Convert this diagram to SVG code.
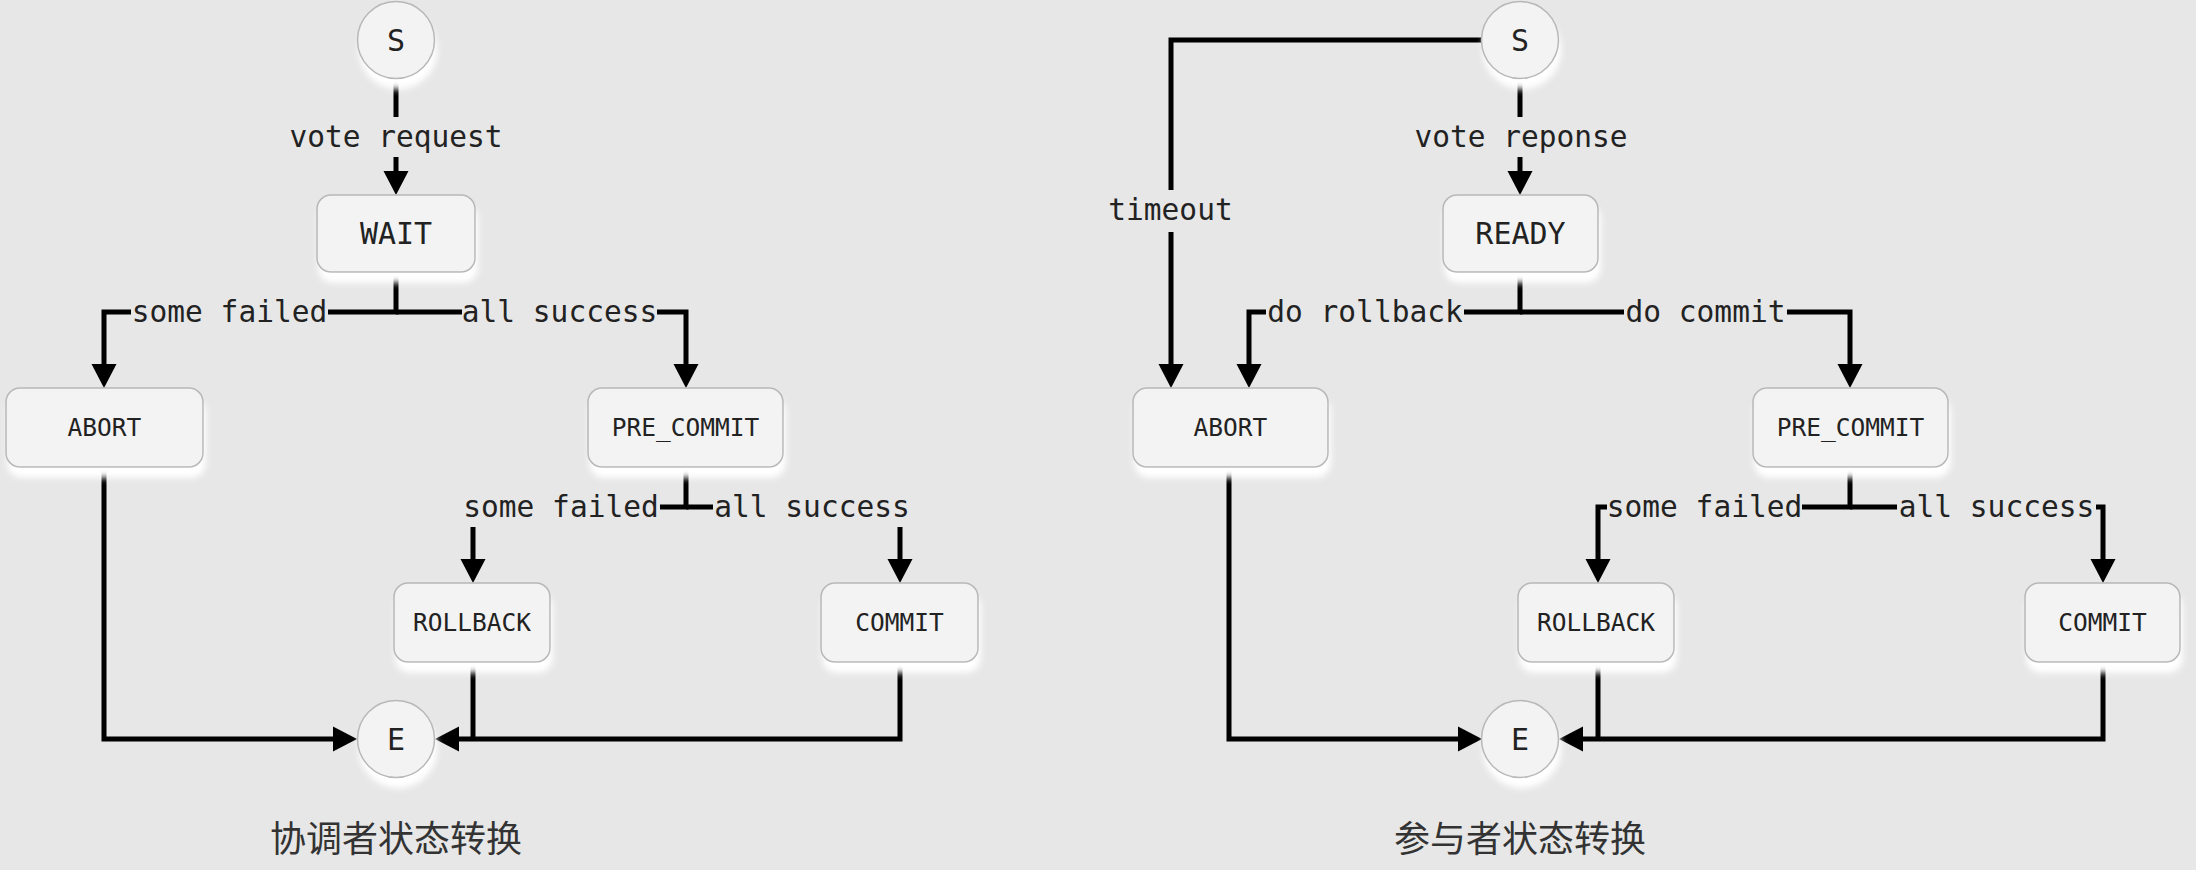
<svg xmlns="http://www.w3.org/2000/svg" width="2196" height="870" viewBox="0 0 2196 870">
<style>
.bg{fill:#e7e7e7}
.node{fill:#f3f3f3;stroke:#b8b8b8;stroke-width:1.5;filter:url(#glow)}
.nt{font-family:"DejaVu Sans Mono","Liberation Mono",monospace;fill:#222;text-anchor:middle;dominant-baseline:central}
.big{font-size:30px}
.small{font-size:24.5px}
.lbl{font-family:"DejaVu Sans Mono","Liberation Mono",monospace;font-size:29.5px;fill:#222;text-anchor:middle;dominant-baseline:central}
.cap{font-family:"Noto Sans CJK SC","Noto Sans",sans-serif;font-size:36px;fill:#333;text-anchor:middle;dominant-baseline:central}
.edge{fill:none;stroke:#000;stroke-width:5;marker-end:url(#arr)}
.seg{fill:none;stroke:#000;stroke-width:5}
</style>
<defs>
<filter id="glow" x="-20%" y="-20%" width="140%" height="160%">
<feDropShadow dx="2" dy="10" stdDeviation="3" flood-color="#ffffff" flood-opacity="1"/>
</filter>
<marker id="arr" markerUnits="userSpaceOnUse" markerWidth="26" markerHeight="26" refX="0" refY="12.5" orient="auto" overflow="visible">
<path d="M0,0 L24,12.5 L0,25 Z" fill="#000"/>
</marker>
</defs>
<rect class="bg" x="0" y="0" width="2196" height="870"/>

<g id="connectors">
<!-- left -->
<path class="edge" d="M396,78 V117 M396,157 V171"/>
<path class="edge" d="M396,272 V312 H328 M131,312 H104 V364"/>
<path class="edge" d="M396,312 H462 M657,312 H686 V364"/>
<path class="edge" d="M686,467 V507 H660 M473,527 V559"/>
<path class="edge" d="M686,507 H713 M900,527 V559"/>
<path class="edge" d="M104,467 V739 H333"/>
<path class="edge" d="M900,662 V739 H459"/>
<path class="seg" d="M473,662 V739"/>
<!-- right -->
<path class="edge" d="M1481,40 H1171 V190 M1171,232 V364"/>
<path class="edge" d="M1520,78 V117 M1520,157 V171"/>
<path class="edge" d="M1520,272 V312 H1464 M1266,312 H1249 V364"/>
<path class="edge" d="M1520,312 H1624 M1787,312 H1850 V364"/>
<path class="edge" d="M1850,467 V507 H1802 M1607,507 H1598 V559"/>
<path class="edge" d="M1850,507 H1897 M2096,507 H2103 V559"/>
<path class="edge" d="M1229,467 V739 H1458"/>
<path class="edge" d="M2103,662 V739 H1583"/>
<path class="seg" d="M1598,662 V739"/>
</g>

<g id="labels">
<text class="lbl" x="396" y="137">vote request</text>
<text class="lbl" x="229.5" y="312">some failed</text>
<text class="lbl" x="559.5" y="312">all success</text>
<text class="lbl" x="561" y="507">some failed</text>
<text class="lbl" x="812" y="507">all success</text>
<text class="lbl" x="1170.5" y="210">timeout</text>
<text class="lbl" x="1521" y="137">vote reponse</text>
<text class="lbl" x="1365" y="312">do rollback</text>
<text class="lbl" x="1705.5" y="312">do commit</text>
<text class="lbl" x="1704.5" y="507">some failed</text>
<text class="lbl" x="1996.5" y="507">all success</text>
</g>

<!-- left diagram nodes -->
<g id="l-start"><circle class="node" cx="396" cy="40" r="38.5"/><text class="nt big" x="396" y="40">S</text></g>
<g id="l-wait"><rect class="node" x="317" y="195" width="158" height="77" rx="14"/><text class="nt big" x="396" y="233.5">WAIT</text></g>
<g id="l-abort"><rect class="node" x="6" y="388" width="197" height="79" rx="14"/><text class="nt small" x="104.5" y="427.5">ABORT</text></g>
<g id="l-precommit"><rect class="node" x="588" y="388" width="195" height="79" rx="14"/><text class="nt small" x="685.5" y="427.5">PRE_COMMIT</text></g>
<g id="l-rollback"><rect class="node" x="394" y="583" width="156" height="79" rx="14"/><text class="nt small" x="472" y="622.5">ROLLBACK</text></g>
<g id="l-commit"><rect class="node" x="821" y="583" width="157" height="79" rx="14"/><text class="nt small" x="899.5" y="622.5">COMMIT</text></g>
<g id="l-end"><circle class="node" cx="396" cy="739" r="38.5"/><text class="nt big" x="396" y="739">E</text></g>
<g id="l-caption"><text class="cap" x="396" y="836">协调者状态转换</text></g>

<!-- right diagram nodes -->
<g id="r-start"><circle class="node" cx="1520" cy="40" r="38.5"/><text class="nt big" x="1520" y="40">S</text></g>
<g id="r-ready"><rect class="node" x="1443" y="195" width="155" height="77" rx="14"/><text class="nt big" x="1520.5" y="233.5">READY</text></g>
<g id="r-abort"><rect class="node" x="1133" y="388" width="195" height="79" rx="14"/><text class="nt small" x="1230.5" y="427.5">ABORT</text></g>
<g id="r-precommit"><rect class="node" x="1753" y="388" width="195" height="79" rx="14"/><text class="nt small" x="1850.5" y="427.5">PRE_COMMIT</text></g>
<g id="r-rollback"><rect class="node" x="1518" y="583" width="156" height="79" rx="14"/><text class="nt small" x="1596" y="622.5">ROLLBACK</text></g>
<g id="r-commit"><rect class="node" x="2025" y="583" width="155" height="79" rx="14"/><text class="nt small" x="2102.5" y="622.5">COMMIT</text></g>
<g id="r-end"><circle class="node" cx="1520" cy="739" r="38.5"/><text class="nt big" x="1520" y="739">E</text></g>
<g id="r-caption"><text class="cap" x="1520" y="836">参与者状态转换</text></g>
</svg>
